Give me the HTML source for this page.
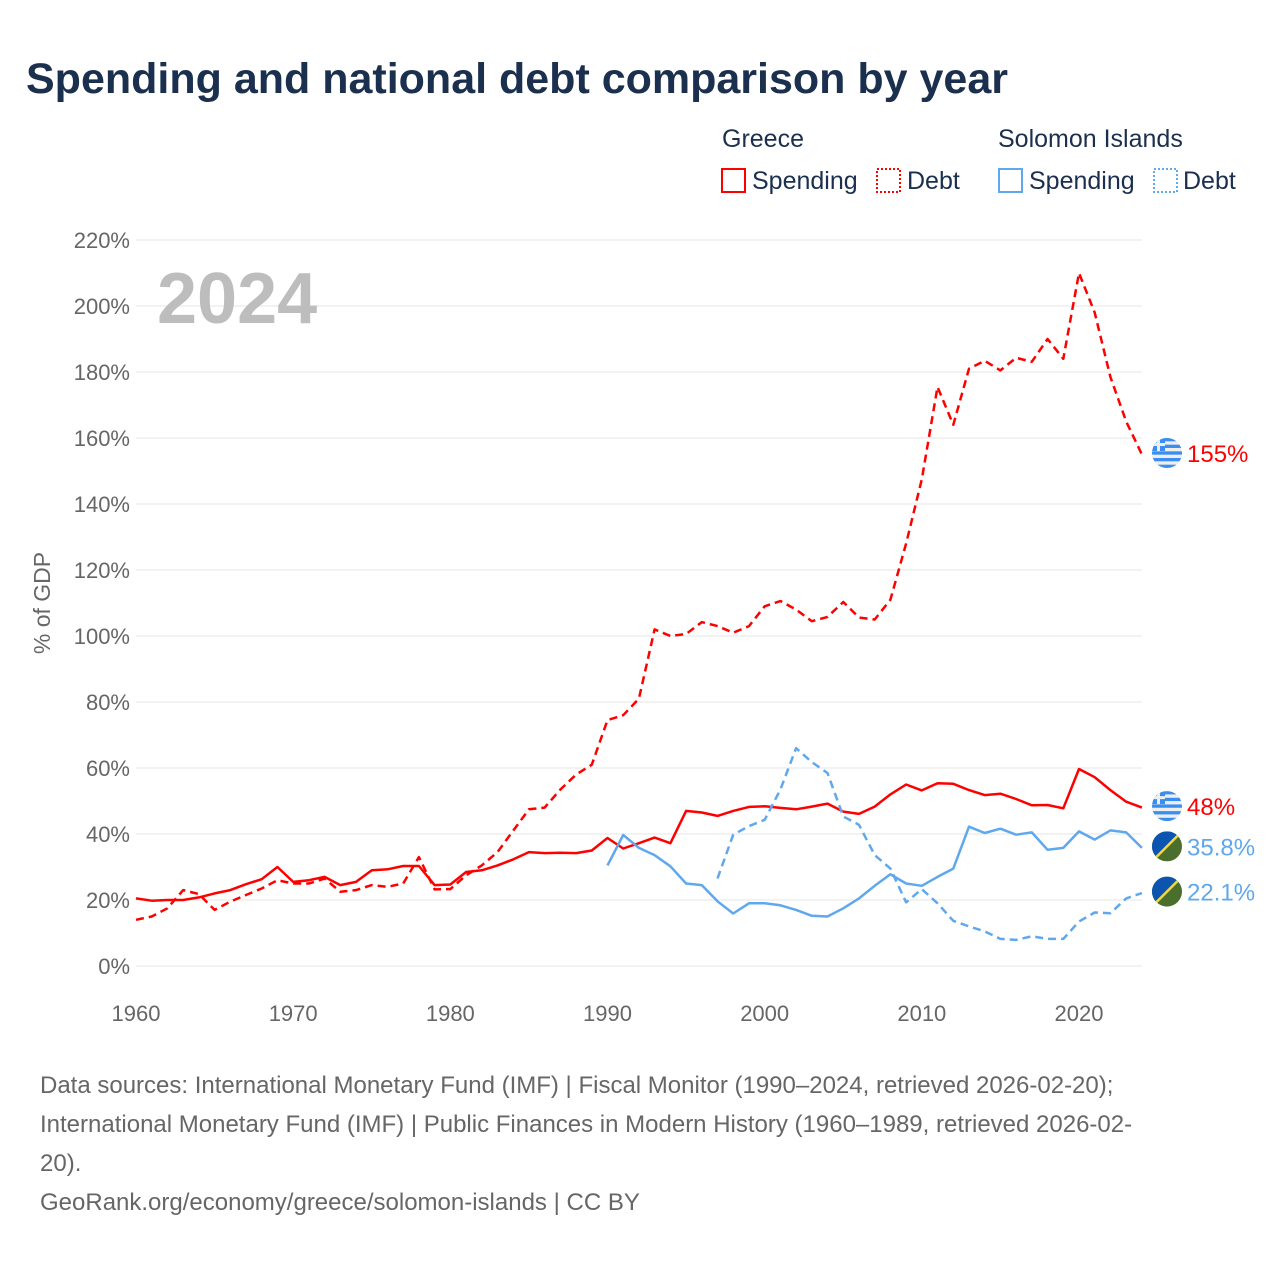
<!DOCTYPE html>
<html><head><meta charset="utf-8"><style>
body{margin:0;background:#fff;width:1280px;height:1280px;overflow:hidden;font-family:"Liberation Sans",sans-serif}
svg{position:absolute;left:0;top:0}
</style></head><body>
<svg id="chart" width="1280" height="1280">
<defs>
<clipPath id="c1"><circle cx="0" cy="0" r="15"/></clipPath>
</defs>
<text x="26" y="93" font-size="43" font-weight="bold" fill="#1b2f4e">Spending and national debt comparison by year</text>
<g font-size="25" fill="#1b2f4e">
<text x="722" y="147">Greece</text>
<text x="998" y="147">Solomon Islands</text>
<g><rect x="722" y="169" width="23" height="23" fill="none" stroke="#f00" stroke-width="2"/><text x="752" y="189">Spending</text></g>
<g><rect x="877" y="169" width="23" height="23" fill="none" stroke="#f00" stroke-width="2" stroke-dasharray="2 2"/><text x="907" y="189">Debt</text></g>
<g><rect x="999" y="169" width="23" height="23" fill="none" stroke="#5fa8ee" stroke-width="2"/><text x="1029" y="189">Spending</text></g>
<g><rect x="1154" y="169" width="23" height="23" fill="none" stroke="#5fa8ee" stroke-width="2" stroke-dasharray="2 2"/><text x="1183" y="189">Debt</text></g>
</g>
<g id="grid"></g>
<text x="157" y="323" font-size="72" font-weight="bold" fill="#bdbdbd">2024</text>
<text transform="translate(50,603) rotate(-90)" text-anchor="middle" font-size="23" fill="#666">% of GDP</text>
<g id="lines"></g>
<g id="ends"></g>
<g font-size="24" fill="#666">
<text x="40" y="1093">Data sources: International Monetary Fund (IMF) | Fiscal Monitor (1990–2024, retrieved 2026-02-20);</text>
<text x="40" y="1132">International Monetary Fund (IMF) | Public Finances in Modern History (1960–1989, retrieved 2026-02-</text>
<text x="40" y="1171">20).</text>
<text x="40" y="1210">GeoRank.org/economy/greece/solomon-islands | CC BY</text>
</g>
</svg>
<script>
const yTicks=[0,20,40,60,80,100,120,140,160,180,200,220];
const xTicks=[1960,1970,1980,1990,2000,2010,2020];
const greeceSpending=[20.5,19.8,20,20,20.8,22,23,24.8,26.3,30,25.5,26,27,24.5,25.5,29,29.3,30.3,30.3,24.5,24.7,28.5,29,30.5,32.3,34.5,34.2,34.3,34.2,35,38.8,35.6,37.2,38.9,37.2,47,46.5,45.5,47,48.2,48.4,47.9,47.5,48.3,49.2,46.8,46.1,48.3,52,55,53.2,55.4,55.2,53.3,51.8,52.2,50.6,48.7,48.8,47.8,59.7,57.2,53.3,49.8,48];
const greeceDebt=[14,15,17.5,23,21.8,17,19.5,21.5,23.5,26,25,25,26.5,22.5,23,24.5,24,25,33,23.2,23.3,27.5,30.5,34.5,41,47.5,48,53.5,58,61,74.5,76,81,102,100,100.6,104.2,103,101,103,109,110.6,108,104.5,105.8,110.3,105.6,105,111,128,147.5,175.5,164,181,183.4,180.5,184.3,183.1,190,184,210,198,178.5,165,155];
const solSpending=[30.5,39.7,35.8,33.6,30.2,25,24.5,19.6,15.9,19,19,18.4,17,15.2,15,17.5,20.5,24.3,27.8,25,24.3,27,29.5,42.2,40.3,41.6,39.8,40.5,35.2,35.8,40.8,38.3,41.1,40.5,35.8];
const solDebt=[26.5,39.8,42.4,44.3,53.5,66,61.8,58.5,45.3,42.8,33.6,29.5,19.3,23.3,19,13.7,12,10.5,8.2,7.9,9,8.2,8.2,13.5,16.2,16,20.5,22.1];
const endLabels=["155%","48%","35.8%","22.1%"];
const NS="http://www.w3.org/2000/svg";
const X=y=>136+(y-1960)*(1079-136)/60;
const Y=v=>966-v*3.3;
function el(t,a,p){const e=document.createElementNS(NS,t);for(const k in a)e.setAttribute(k,a[k]);p.appendChild(e);return e;}
const grid=document.getElementById('grid');
yTicks.forEach(v=>{
 const l=el('line',{x1:136,x2:1142,y1:Y(v),y2:Y(v),stroke:'#e6e6e6','stroke-width':1},grid);
 
 
 const t=el('text',{x:130,y:Y(v)+8,'text-anchor':'end','font-size':22,fill:'#666'},grid);
 t.textContent=v+'%';
 
 
});
xTicks.forEach(y=>{
 const t=el('text',{x:X(y),y:1021,'text-anchor':'middle','font-size':22,fill:'#666'},grid);
 t.textContent=y;
 
 
});
const lines=document.getElementById('lines');
function series(arr,start,color,dash,name){
 const d=arr.map((v,i)=>(i?'L':'M')+X(start+i).toFixed(1)+','+Y(v).toFixed(1)).join('');
 const p=el('path',{d:d,fill:'none',stroke:color,'stroke-width':2.5,'stroke-linejoin':'round'},lines);
 if(dash)p.setAttribute('stroke-dasharray','8 5');
 
 
}
series(greeceSpending,1960,'#ff0000',false,'greece-spending-line');
series(greeceDebt,1960,'#ff0000',true,'greece-debt-line');
series(solSpending,1990,'#5fa8ee',false,'solomon-spending-line');
series(solDebt,1997,'#5fa8ee',true,'solomon-debt-line');
const ends=document.getElementById('ends');
const lastVals=[greeceDebt[greeceDebt.length-1],greeceSpending[greeceSpending.length-1],solSpending[solSpending.length-1],solDebt[solDebt.length-1]];
const isGreece=[true,true,false,false];
lastVals.forEach((v,i)=>{
 const cy=Y(v)-1.5;
 const g=el('g',{transform:`translate(1167,${cy})`},ends);
 
 
 const gg=el('g',{'clip-path':'url(#c1)'},g);
 if(isGreece[i]){
  el('rect',{x:-15,y:-15,width:30,height:30,fill:'#eee'},gg);
  for(let k=0;k<5;k++)el('rect',{x:-15,y:-15+k*6.67,width:30,height:3.3,fill:'#3a8ef0'},gg);
  el('rect',{x:-15,y:-15,width:13,height:13,fill:'#3a8ef0'},gg);
  el('rect',{x:-15,y:-10,width:13,height:3,fill:'#eee'},gg);
  el('rect',{x:-10,y:-15,width:3,height:13,fill:'#eee'},gg);
 }else{
  el('rect',{x:-15,y:-15,width:30,height:30,fill:'#4a6e2c'},gg);
  el('polygon',{points:'-15,-15 15,-15 -15,15',fill:'#0b55b0'},gg);
  el('line',{x1:-15,y1:15,x2:15,y2:-15,stroke:'#f5d83a','stroke-width':2.5},gg);
 }
 const t=el('text',{x:1187,y:cy+9,'font-size':24,fill:isGreece[i]?'#ff0000':'#5fa8ee'},ends);
 t.textContent=endLabels[i];
 
 
});
</script>
</body></html>
